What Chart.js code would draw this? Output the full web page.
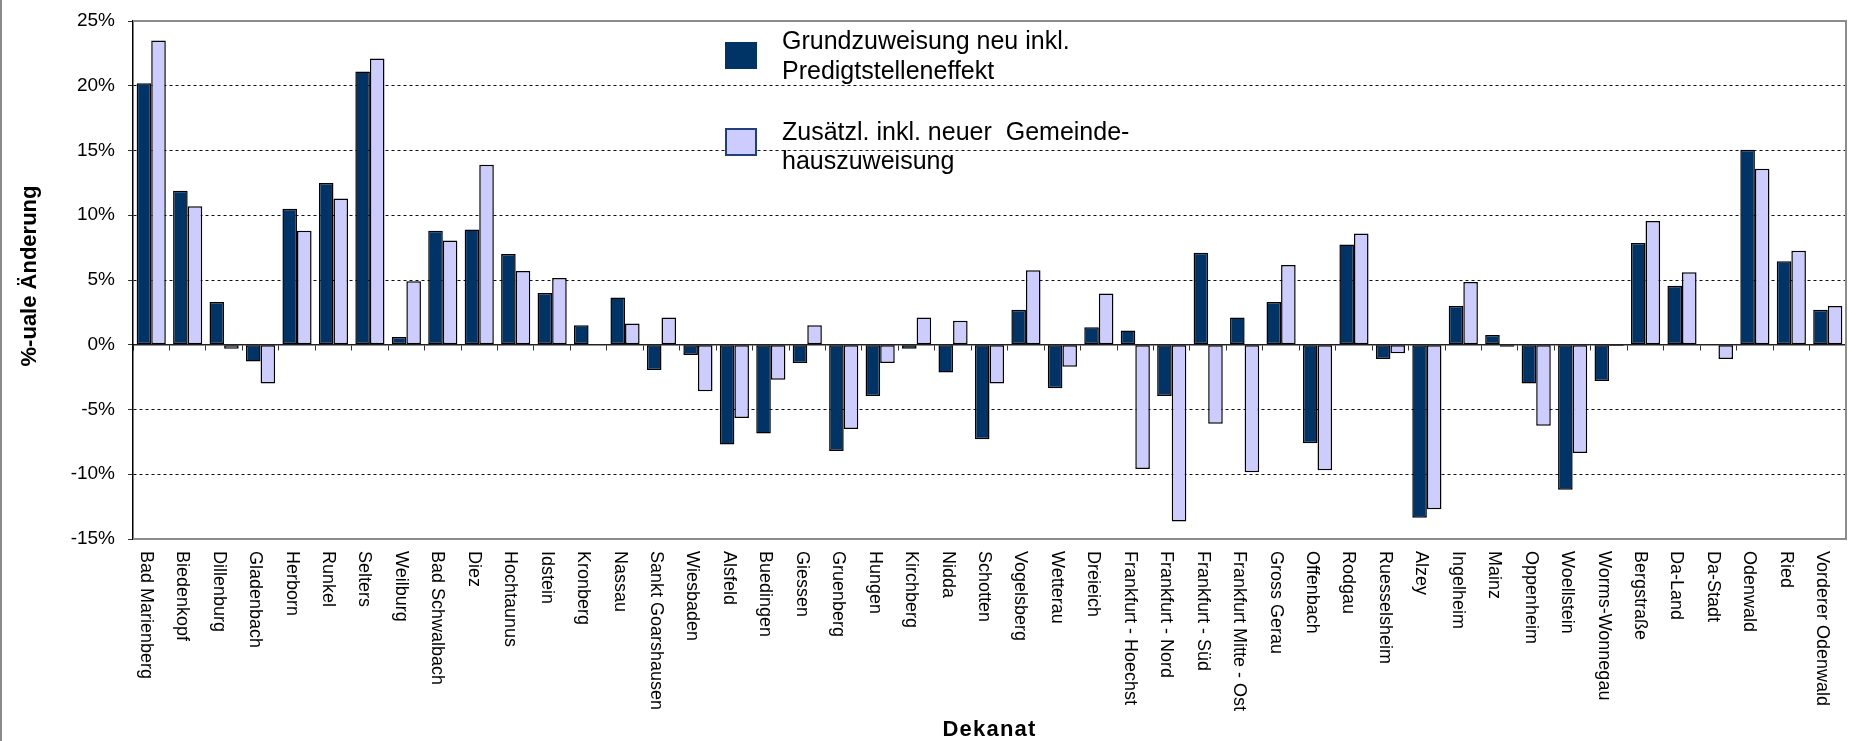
<!DOCTYPE html>
<html>
<head>
<meta charset="utf-8">
<script src="https://cdn.jsdelivr.net/npm/chart.js@4/dist/chart.umd.min.js"></script>
<style>
  html, body { margin: 0; padding: 0; background: #fff; }
  #wrap { width: 1849px; height: 741px; position: relative; }
  canvas { display: block; }
</style>
</head>
<body>
<div id="wrap"><canvas id="c" width="1849" height="741"></canvas></div>
<script>
const categories = [
  "Bad Marienberg", "Biedenkopf", "Dillenburg", "Gladenbach", "Herborn", "Runkel", "Selters",
  "Weilburg", "Bad Schwalbach", "Diez", "Hochtaunus", "Idstein", "Kronberg", "Nassau",
  "Sankt Goarshausen", "Wiesbaden", "Alsfeld", "Buedingen", "Giessen", "Gruenberg", "Hungen",
  "Kirchberg", "Nidda", "Schotten", "Vogelsberg", "Wetterau", "Dreieich", "Frankfurt - Hoechst",
  "Frankfurt - Nord", "Frankfurt - Süd", "Frankfurt Mitte - Ost", "Gross Gerau", "Offenbach",
  "Rodgau", "Ruesselsheim", "Alzey", "Ingelheim", "Mainz", "Oppenheim", "Woellstein",
  "Worms-Wonnegau", "Bergstraße", "Da-Land", "Da-Stadt", "Odenwald", "Ried", "Vorderer Odenwald"
];

const grundzuweisung = [
  20.2, 11.9, 3.3, -1.3, 10.5, 12.5, 21.1,
  0.6, 8.8, 8.9, 7.0, 4.0, 1.5, 3.65,
  -1.95, -0.8, -7.7, -6.85, -1.4, -8.2, -3.95,
  -0.3, -2.15, -7.3, 2.7, -3.35, 1.35, 1.1,
  -3.95, 7.1, 2.1, 3.3, -7.6,
  7.75, -1.1, -13.35, 3.0, 0.75, -3.0, -11.2,
  -2.8, 7.85, 4.55, 0, 15.05, 6.45, 2.7
];

const gemeindehaus = [
  23.5, 10.7, -0.3, -3.0, 8.8, 11.3, 22.1,
  4.9, 8.05, 13.9, 5.7, 5.15, 0, 1.65,
  2.1, -3.6, -5.65, -2.7, 1.5, -6.5, -1.4,
  2.1, 1.85, -3.0, 5.75, -1.7, 3.95, -9.6,
  -13.65, -6.1, -9.85, 6.15, -9.7,
  8.6, -0.65, -12.7, 4.85, -0.15, -6.25, -8.35,
  -0.1, 9.55, 5.6, -1.1, 13.6, 7.25, 3.0
];

const seriesNames = [
  ["Grundzuweisung neu inkl.", "Predigtstelleneffekt"],
  ["Zusätzl. inkl. neuer  Gemeinde-", "hauszuweisung"]
];

const yTicks = [-15, -10, -5, 0, 5, 10, 15, 20, 25];
const yTitle = "%-uale Änderung";
const xTitle = "Dekanat";

const FONT = "'Liberation Sans', Arial, sans-serif";
const DARK = "#003366";
const LIGHT = "#CCCCFF";

const customDraw = {
  id: 'customDraw',
  beforeDraw(chart) {
    const ctx = chart.ctx;
    ctx.save();
    ctx.fillStyle = '#fff';
    ctx.fillRect(0, 0, chart.width, chart.height);
    ctx.strokeStyle = '#8a8a8a';
    ctx.lineWidth = 2;
    ctx.beginPath();
    ctx.moveTo(1, 0);
    ctx.lineTo(1, chart.height);
    ctx.stroke();
    ctx.restore();
  },
  beforeDatasetsDraw(chart) {
    const ctx = chart.ctx;
    const a = chart.chartArea;
    ctx.save();
    ctx.strokeStyle = '#8c8c8c';
    ctx.lineWidth = 2;
    ctx.beginPath();
    ctx.moveTo(a.left, a.top);
    ctx.lineTo(a.right, a.top);
    ctx.lineTo(a.right, a.bottom);
    ctx.lineTo(a.left, a.bottom);
    ctx.stroke();
    ctx.restore();
  },
  afterDraw(chart) {
    const ctx = chart.ctx;
    const a = chart.chartArea;
    const xs = chart.scales.x;
    ctx.save();
    ctx.fillStyle = '#000';
    ctx.font = '18px ' + FONT;
    ctx.textAlign = 'left';
    ctx.textBaseline = 'alphabetic';
    categories.forEach((lab, i) => {
      const x = xs.getPixelForValue(i) - 10.5;
      const y = a.bottom + 12;
      ctx.save();
      ctx.translate(x, y);
      ctx.rotate(Math.PI / 2);
      ctx.fillText(lab, 0, 0);
      ctx.restore();
    });
    ctx.font = 'bold 22px ' + FONT;
    ctx.textAlign = 'center';
    ctx.save();
    ctx.translate(36, 276);
    ctx.rotate(-Math.PI / 2);
    ctx.fillText(yTitle, 0, 0);
    ctx.restore();
    ctx.save();
    try { ctx.letterSpacing = '1.2px'; } catch (e) {}
    ctx.fillText(xTitle, (a.left + a.right) / 2, 736);
    ctx.restore();
    const boxes = [
      {x: 725, y: 42, w: 32, h: 27, fill: DARK, stroke: DARK, lines: seriesNames[0], base: [49, 79]},
      {x: 725, y: 128, w: 32, h: 28, fill: LIGHT, stroke: '#1f3f7f', lines: seriesNames[1], base: [140, 169]}
    ];
    boxes.forEach(b => {
      ctx.fillStyle = b.fill;
      ctx.fillRect(b.x, b.y, b.w, b.h);
      ctx.strokeStyle = b.stroke;
      ctx.lineWidth = 2;
      ctx.strokeRect(b.x + 1, b.y + 1, b.w - 2, b.h - 2);
      ctx.fillStyle = '#000';
      ctx.font = '25px ' + FONT;
      ctx.textAlign = 'left';
      b.lines.forEach((t, k) => ctx.fillText(t, 782, b.base[k]));
    });
    ctx.restore();
  }
};

new Chart(document.getElementById('c'), {
  type: 'bar',
  data: {
    labels: categories,
    datasets: [
      {
        label: seriesNames[0].join(' '),
        data: grundzuweisung,
        backgroundColor: DARK,
        borderColor: '#000',
        borderWidth: 1.5,
        borderSkipped: false
      },
      {
        label: seriesNames[1].join(' '),
        data: gemeindehaus,
        backgroundColor: LIGHT,
        borderColor: '#000',
        borderWidth: 1.5,
        borderSkipped: false
      }
    ]
  },
  options: {
    responsive: false,
    animation: false,
    devicePixelRatio: 1,
    layout: { padding: { left: 0, top: 21, right: 3, bottom: 202 } },
    datasets: { bar: { categoryPercentage: 0.8, barPercentage: 1.0 } },
    plugins: {
      legend: { display: false },
      tooltip: { enabled: false },
      title: { display: false }
    },
    scales: {
      x: {
        type: 'category',
        position: { y: 0 },
        offset: true,
        ticks: { display: false },
        grid: {
          display: true,
          offset: true,
          drawOnChartArea: false,
          drawTicks: true,
          tickLength: 5,
          tickColor: '#333',
          tickWidth: 1
        },
        border: { display: true, color: '#222', width: 1.5 }
      },
      y: {
        min: -15,
        max: 25,
        afterFit(s) { s.width = 133; s.paddingTop = 0; s.paddingBottom = 0; },
        afterBuildTicks(s) { s.ticks = yTicks.map(v => ({ value: v })); },
        ticks: {
          font: { family: FONT, size: 19 },
          color: '#000',
          padding: 13,
          callback: v => v + '%'
        },
        grid: {
          color: c => (c.tick && (c.tick.value === 25 || c.tick.value === -15 || c.tick.value === 0)) ? 'rgba(0,0,0,0)' : '#111',
          lineWidth: 1,
          tickColor: '#333',
          tickLength: 5,
          drawTicks: true
        },
        border: { display: true, color: '#000', width: 1.5, dash: [3, 3], dashOffset: 0 }
      }
    }
  },
  plugins: [customDraw]
});
</script>
</body>
</html>
